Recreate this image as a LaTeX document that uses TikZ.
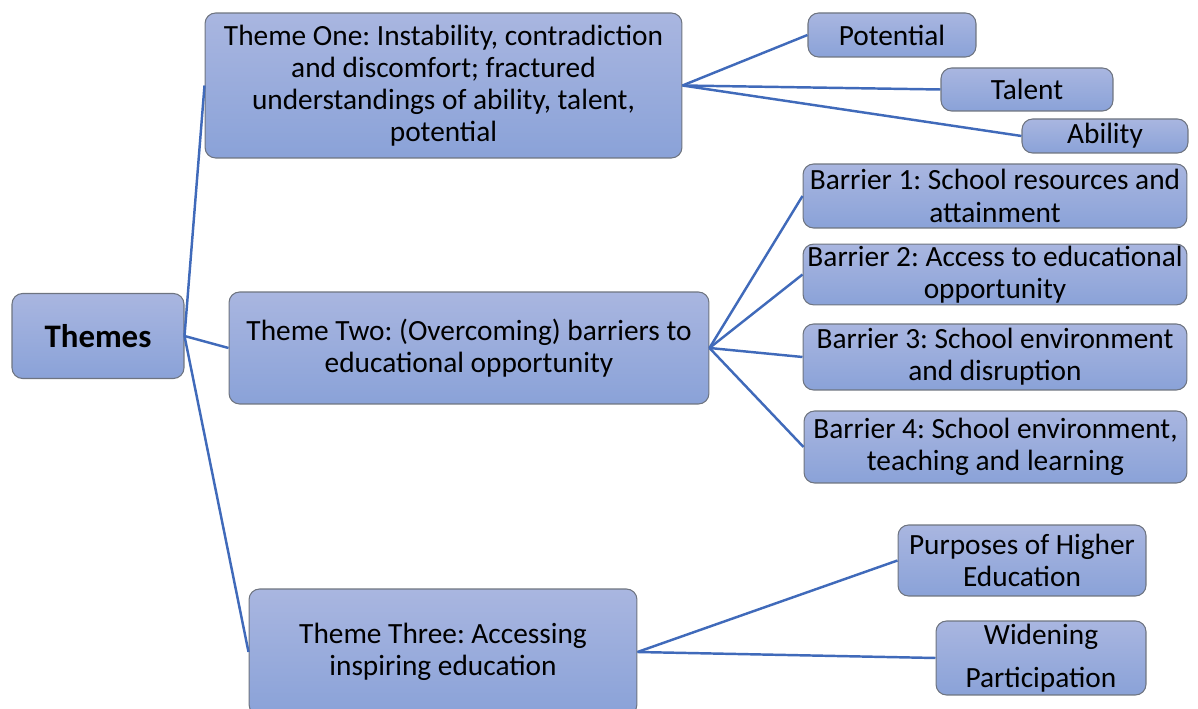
\documentclass[tikz,border=0pt]{standalone}
\usepackage{fontspec}
\setmainfont{Carlito}
\usepackage{tikz}
\usetikzlibrary{positioning, calc}
\definecolor{boxtop}{RGB}{169, 182, 224}
\definecolor{boxbottom}{RGB}{138, 162, 216}
\definecolor{boxline}{RGB}{110, 116, 128}
\definecolor{linkblue}{RGB}{64, 106, 186}
\frenchspacing

\tikzset{
    themebox/.style={rectangle, rounded corners=6pt, draw=boxline, line width=0.6pt,
        top color=boxtop, bottom color=boxbottom, align=center, inner sep=1pt,
        font=\fontsize{16.7}{18.3}\selectfont},
    link/.style={draw=linkblue, line width=1.4pt}
}

\begin{document}
\begin{tikzpicture}[x=0.02cm, y=-0.02cm]
    \useasboundingbox (0,0) rectangle (1198,709);

    % root and the three themes
    \node[themebox, minimum width=3.44cm, minimum height=1.70cm,
          font=\fontsize{18.7}{21}\selectfont\bfseries] (themes) at (98,336) {Themes};
    \node[themebox, minimum width=9.54cm, minimum height=2.90cm] (one) at (443.5,85.5)
        {Theme One: Instability, contradiction\\ and discomfort; fractured\\
         understandings of ability, talent,\\ potential};
    \node[themebox, minimum width=9.60cm, minimum height=2.24cm] (two) at (469,348)
        {Theme Two: (Overcoming) barriers to\\ educational opportunity};
    \node[themebox, minimum width=7.76cm, minimum height=2.52cm] (three) at (443,652)
        {Theme Three: Accessing\\ inspiring education};

    % theme one leaves
    \node[themebox, minimum width=3.36cm, minimum height=0.88cm] (potential) at (892,35) {Potential};
    \node[themebox, minimum width=3.44cm, minimum height=0.86cm] (talent) at (1027,89.5) {Talent};
    \node[themebox, minimum width=3.32cm, minimum height=0.68cm] (ability) at (1105,136) {Ability};

    % theme two leaves
    \node[themebox, minimum width=7.68cm, minimum height=1.28cm] (bar1) at (995,196)
        {Barrier 1: School resources and\\ attainment};
    \node[themebox, minimum width=7.68cm, minimum height=1.18cm] (bar2) at (995,274.5)
        {Barrier 2: Access to educational\\ opportunity};
    \node[themebox, minimum width=7.68cm, minimum height=1.32cm] (bar3) at (995,357)
        {Barrier 3: School environment\\ and disruption};
    \node[themebox, minimum width=7.66cm, minimum height=1.44cm] (bar4) at (995.5,447)
        {Barrier 4: School environment,\\ teaching and learning};

    % theme three leaves
    \node[themebox, minimum width=4.96cm, minimum height=1.42cm] (purposes) at (1022,560.5)
        {Purposes of Higher\\ Education};
    \node[themebox, minimum width=4.20cm, minimum height=1.48cm] (widening) at (1041,658)
        {Widening\\[6pt] Participation};

    % connectors
    \foreach \t in {one, two, three}
        \draw[link] (themes.east) -- (\t.west);
    \foreach \l in {potential, talent, ability}
        \draw[link] (one.east) -- (\l.west);
    \foreach \l in {bar1, bar2, bar3, bar4}
        \draw[link] (two.east) -- (\l.west);
    \foreach \l in {purposes, widening}
        \draw[link] (three.east) -- (\l.west);
\end{tikzpicture}
\end{document}
